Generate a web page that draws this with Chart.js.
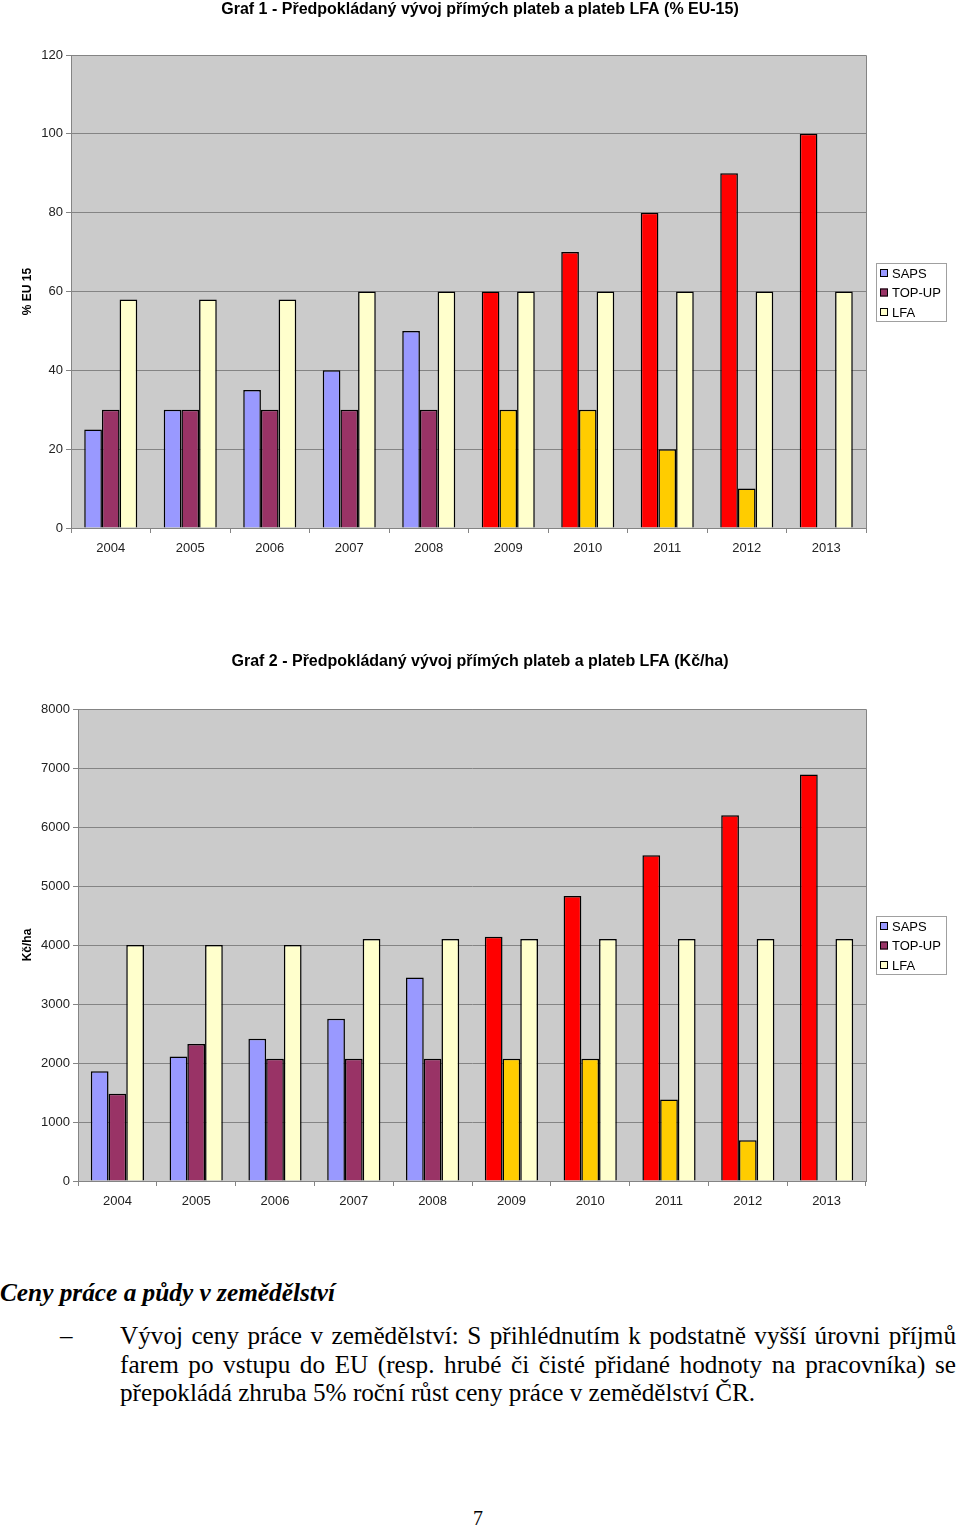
<!DOCTYPE html>
<html lang="cs">
<head>
<meta charset="utf-8">
<script src="https://cdn.jsdelivr.net/npm/chart.js@4/dist/chart.umd.min.js"></script>
<style>
  html, body { margin: 0; padding: 0; background: #fff; }
  body { width: 960px; height: 1527px; position: relative; overflow: hidden; }
  .box { position: absolute; left: 0; width: 960px; }
  #g1 { top: 0; height: 600px; }
  #g2 { top: 600px; height: 640px; }
  .txt { position: absolute; font-family: "Liberation Serif", "Times New Roman", serif; color: #000; }
  #nadpis { left: 0; top: 1278px; font-size: 25.3px; font-weight: bold; font-style: italic; }
  #pomlcka { left: 60px; top: 1322px; font-size: 25px; }
  #odstavec { left: 120px; top: 1322px; width: 836px; font-size: 25.2px; line-height: 28.5px; }
  #odstavec span { display: block; text-align: justify; text-align-last: justify; white-space: nowrap; }
  #odstavec span.last { text-align-last: left; }
  #strana { left: 0; width: 956px; top: 1507px; text-align: center; font-size: 20px; }
</style>
</head>
<body>
<div class="box" id="g1"><canvas id="graf1"></canvas></div>
<div class="box" id="g2"><canvas id="graf2"></canvas></div>

<div class="txt" id="nadpis">Ceny práce a půdy v zemědělství</div>
<div class="txt" id="pomlcka">–</div>
<div class="txt" id="odstavec">
  <span>Vývoj ceny práce v zemědělství: S přihlédnutím k podstatně vyšší úrovni příjmů</span>
  <span>farem po vstupu do EU (resp. hrubé či čisté přidané hodnoty na pracovníka) se</span>
  <span class="last">přepokládá zhruba 5% roční růst ceny práce v zemědělství ČR.</span>
</div>
<div class="txt" id="strana">7</div>

<script>
// roky a hodnoty odečtené z grafů
var roky = ['2004', '2005', '2006', '2007', '2008', '2009', '2010', '2011', '2012', '2013'];
var nazvySerii = ['SAPS', 'TOP-UP', 'LFA'];

// Graf 1 - % EU-15
var sapsProc = [25, 30, 35, 40, 50, 60, 70, 80, 90, 100];
var topupProc = [30, 30, 30, 30, 30, 30, 30, 20, 10, 0];
var lfaProc = [58, 58, 58, 60, 60, 60, 60, 60, 60, 60];
var tickyProc = [0, 20, 40, 60, 80, 100, 120];

// Graf 2 - Kč/ha
var sapsKc = [1860, 2110, 2410, 2750, 3450, 4140, 4830, 5520, 6200, 6890];
var topupKc = [1480, 2320, 2070, 2070, 2070, 2070, 2070, 1380, 690, 0];
var lfaKc = [4000, 4000, 4000, 4100, 4100, 4100, 4100, 4100, 4100, 4100];
var tickyKc = [0, 1000, 2000, 3000, 4000, 5000, 6000, 7000, 8000];

var modra = '#9999ff', fialova = '#993366', zluta = '#ffffcc';
var cervena = '#ff0000', oranzova = '#ffcc00';
var seda = '#848484';
var pismo = '"Liberation Sans", Arial, sans-serif';

// od roku 2009 jsou sloupce jinou barvou
var barvySaps = roky.map(function(r) { return +r >= 2009 ? cervena : modra; });
var barvyTopup = roky.map(function(r) { return +r >= 2009 ? oranzova : fialova; });
var barvyLegendy = [modra, fialova, zluta];

var pozadiGrafu = {
    id: 'pozadiGrafu',
    beforeDraw: function(chart) {
        var a = chart.chartArea, c = chart.ctx;
        c.save();
        c.fillStyle = '#cbcbcb';
        c.fillRect(a.left, a.top, a.right - a.left, a.bottom - a.top);
        c.restore();
    },
    afterDraw: function(chart) {
        var a = chart.chartArea, c = chart.ctx;
        c.save();
        c.strokeStyle = seda;
        c.lineWidth = 1;
        c.beginPath();
        c.moveTo(a.left, a.top + 0.5);
        c.lineTo(a.right + 0.5, a.top + 0.5);
        c.lineTo(a.right + 0.5, a.bottom);
        c.stroke();

        // legenda v rámečku vpravo
        var x = a.right + 10, w = 70, h = 58;
        var y = Math.round((a.top + a.bottom) / 2 - h / 2);
        c.fillStyle = '#fff';
        c.fillRect(x, y, w, h);
        c.strokeStyle = '#a0a0a0';
        c.strokeRect(x + 0.5, y + 0.5, w, h);
        c.font = '13px ' + pismo;
        c.textBaseline = 'middle';
        chart.data.datasets.forEach(function(ds, i) {
            var cy = y + 10 + i * 19.5;
            c.fillStyle = barvyLegendy[i];
            c.fillRect(x + 4, cy - 4, 8, 8);
            c.strokeStyle = '#000';
            c.strokeRect(x + 4.5, cy - 3.5, 7, 7);
            c.fillStyle = '#000';
            c.fillText(ds.label, x + 16, cy + 1);
        });
        c.restore();
    }
};

function vytvorGraf(id, nadpis, osaY, saps, topup, lfa, ticky, rozmery) {
    var config = {
        type: 'bar',
        data: {
            labels: roky,
            datasets: [
                { label: nazvySerii[0], data: saps, backgroundColor: barvySaps },
                { label: nazvySerii[1], data: topup, backgroundColor: barvyTopup },
                { label: nazvySerii[2], data: lfa, backgroundColor: zluta }
            ]
        },
        options: {
            responsive: true,
            maintainAspectRatio: false,
            animation: false,
            layout: { padding: 0 },
            datasets: {
                bar: {
                    borderColor: '#000',
                    borderWidth: 1.5,
                    categoryPercentage: rozmery.kategorie,
                    barPercentage: 1
                }
            },
            plugins: {
                legend: { display: false },
                tooltip: { enabled: false },
                title: {
                    display: true,
                    text: nadpis,
                    color: '#000',
                    font: { family: pismo, size: 16, weight: 'bold', lineHeight: 1.2 },
                    padding: { top: rozmery.nadpisNahore, bottom: rozmery.nadpisDole }
                }
            },
            scales: {
                x: {
                    grid: { drawOnChartArea: false, drawTicks: true, tickLength: 5, color: seda },
                    border: { color: seda },
                    ticks: { color: '#222', padding: 8, font: { family: pismo, size: 13 } },
                    afterFit: function(s) { s.height = rozmery.vyskaX; }
                },
                y: {
                    min: 0,
                    max: ticky[ticky.length - 1],
                    afterBuildTicks: function(s) { s.ticks = ticky.map(function(v) { return { value: v }; }); },
                    grid: { color: seda, tickLength: 5 },
                    border: { color: seda },
                    ticks: {
                        color: '#222', padding: 3, font: { family: pismo, size: 13 },
                        callback: function(v) { return String(v); }
                    },
                    title: {
                        display: true,
                        text: osaY,
                        color: '#000',
                        font: { family: pismo, size: 12, weight: 'bold' },
                        padding: { top: 20, bottom: 0 }
                    },
                    afterFit: function(s) { s.width = rozmery.sirkaY; }
                },
                // prázdná osa vpravo jen rezervuje místo pro legendu
                misto: {
                    type: 'linear',
                    position: 'right',
                    grid: { display: false },
                    border: { display: false },
                    ticks: { display: false },
                    afterFit: function(s) { s.width = 94; }
                }
            }
        },
        plugins: [pozadiGrafu]
    };
    return new Chart(document.getElementById(id), config);
}

vytvorGraf('graf1', 'Graf 1 - Předpokládaný vývoj přímých plateb a plateb LFA (% EU-15)', '% EU 15',
    sapsProc, topupProc, lfaProc, tickyProc,
    { kategorie: 0.667, nadpisNahore: 0, nadpisDole: 35.8, vyskaX: 72, sirkaY: 71 });

vytvorGraf('graf2', 'Graf 2 - Předpokládaný vývoj přímých plateb a plateb LFA (Kč/ha)', 'Kč/ha',
    sapsKc, topupKc, lfaKc, tickyKc,
    { kategorie: 0.675, nadpisNahore: 52.4, nadpisDole: 37.4, vyskaX: 59, sirkaY: 78 });
</script>
</body>
</html>
